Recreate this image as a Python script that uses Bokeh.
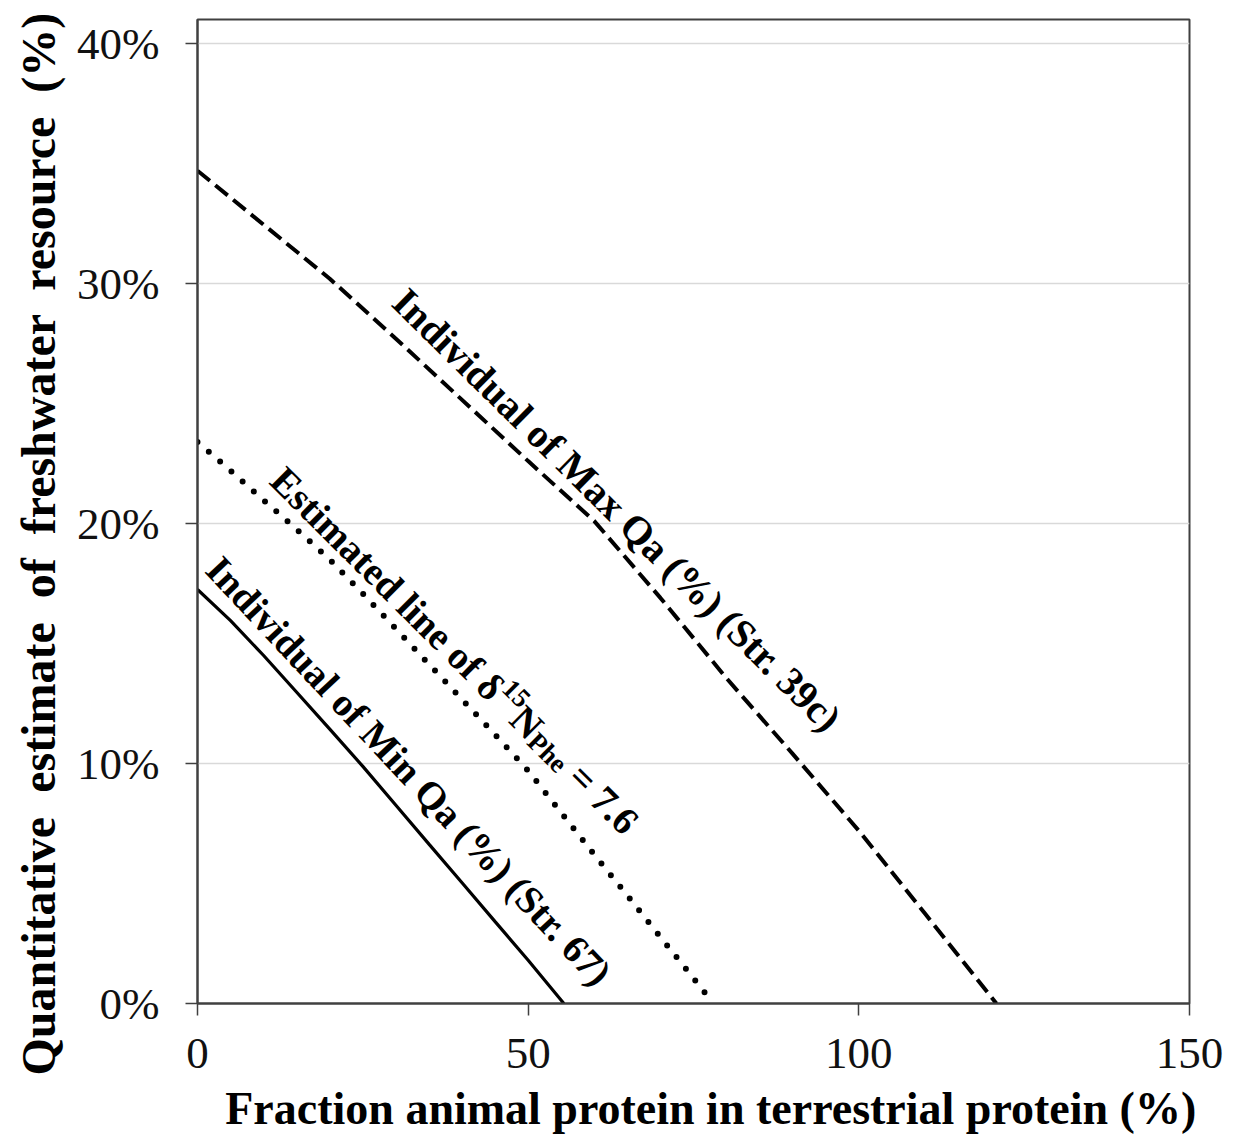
import math
from bokeh.plotting import figure
from bokeh.models import Range1d, FixedTicker, Label, Title
from bokeh.embed import file_html
from bokeh.resources import INLINE

# ---------------- data ----------------
min_x = [0, 5, 10, 15, 20, 25, 30, 35, 40, 45, 50, 55.4]
min_y = [17.25, 15.95, 14.5, 12.97, 11.43, 9.88, 8.26, 6.64, 5.03, 3.41, 1.8, 0.0]

est_x = [0, 5, 10, 14, 20, 25, 30, 35, 40, 45, 50, 55, 60, 65, 70, 75, 78]
est_y = [23.4, 22.2, 20.97, 20.0, 18.5, 17.08, 15.61, 14.14, 12.67, 11.2,
         9.7, 7.95, 6.2, 4.5, 2.77, 1.05, 0.0]

max_x = [0, 10, 20, 30, 40, 50, 60, 70, 80, 90, 100, 110, 120.8]
max_y = [34.7, 32.45, 30.2, 27.7, 25.15, 22.6, 20.1, 16.9, 13.55, 10.4, 7.2, 3.75, 0.0]

x_ticks = [0, 50, 100, 150]
y_ticks = [0, 10, 20, 30, 40]
y_tick_labels = ["0%", "10%", "20%", "30%", "40%"]

NB = "\u00a0"
x_title = NB * 3 + "Fraction animal protein in terrestrial protein (%)"
y_title = (" " + NB).join(["Quantitative", "estimate", "of", "freshwater",
                           "resource", "(%)"])
max_label = "Individual of Max Qa (%) (Str. 39c)"
min_label = "Individual of Min Qa (%) (Str. 67)"

# ---------------- figure ----------------
X0, X1, Y0, Y1 = 0, 150, 0, 41
W, H = 1230, 1142
BL, BR, BT, BB = 197, 41, 19, 139
PX_X = (W - BL - BR) / (X1 - X0)
PX_Y = (H - BT - BB) / (Y1 - Y0)

p = figure(width=W, height=H, output_backend="svg", toolbar_location=None,
           x_range=Range1d(X0, X1), y_range=Range1d(Y0, Y1),
           min_border_left=BL, min_border_right=BR,
           min_border_top=BT, min_border_bottom=BB)
p.background_fill_color = "white"
p.border_fill_color = "white"
p.outline_line_color = "#404040"
p.outline_line_width = 2

FONT = "Liberation Serif"
AX_COL = "#404040"

for ax in (p.xaxis[0], p.yaxis[0]):
    ax.axis_line_color = AX_COL
    ax.axis_line_width = 2
    ax.major_tick_line_color = AX_COL
    ax.major_tick_line_width = 1.5
    ax.major_tick_out = 12
    ax.major_tick_in = 0
    ax.minor_tick_line_color = None
    ax.major_label_text_font = FONT
    ax.major_label_text_font_size = "45px"
    ax.major_label_text_color = "#111111"
    ax.axis_label_text_font = FONT
    ax.axis_label_text_font_style = "bold"
    ax.axis_label_text_color = "black"

p.xaxis.ticker = FixedTicker(ticks=x_ticks)
p.yaxis.ticker = FixedTicker(ticks=y_ticks)
p.yaxis.major_label_overrides = {t: l for t, l in zip(y_ticks, y_tick_labels)}
p.xaxis.major_label_standoff = 23
p.yaxis.major_label_standoff = 26

p.xaxis.axis_label = x_title
p.xaxis.axis_label_text_font_size = "46px"
p.xaxis.axis_label_standoff = 12

# y-axis title: a side title starting a little below the frame bottom, like the original
p.add_layout(Title(text=y_title, align="left", offset=-72, standoff=19,
                   text_font=FONT, text_font_style="bold", text_font_size="48px",
                   text_color="black"), "left")

p.xgrid.grid_line_color = None
p.ygrid.grid_line_color = "#d9d9d9"
p.ygrid.grid_line_width = 1.5

# ---------------- lines ----------------
p.line(min_x, min_y, line_color="black", line_width=3.2)
p.line(est_x, est_y, line_color="black", line_width=6,
       line_dash="0 15", line_cap="round")
p.line(max_x, max_y, line_color="black", line_width=4, line_dash="16 7")

# ---------------- labels ----------------
def to_data(px, py):
    return X0 + (px - BL) / PX_X, Y1 - (py - BT) / PX_Y


def place(x0, y0, ang, s, n=0.0):
    a = math.radians(ang)
    return (x0 + (s * math.cos(a) - n * math.sin(a)) / PX_X,
            y0 + (s * math.sin(a) + n * math.cos(a)) / PX_Y)


def add_label(x, y, text, ang, size, style="bold", align="left"):
    p.add_layout(Label(x=x, y=y, text=text, angle=math.radians(ang), angle_units="rad",
                       text_font=FONT, text_font_style=style, text_font_size=f"{size}px",
                       text_color="black", text_align=align, text_baseline="alphabetic"))

# Max label
mx, my = to_data(399, 295)
add_label(mx, my, max_label, -44.6, 40)

# Min label
nx, ny = to_data(213, 562)
add_label(nx, ny, min_label, -46.8, 39)

# Estimated line label, composed of pieces
ex, ey = to_data(277, 473)
ANG = -44.9
pieces = [
    ("Estimated line of δ", 39, "bold", 0.0, 311.0),
    ("15", 27, "bold", 13.0, 27.0),
    ("N", 39, "bold", 0.0, 28.5),
    ("Phe", 27, "bold", -7.0, 44.0),
    (NB + "= 7.6", 39, "bold", 0.0, 90.5),
]
s = 0.0
for txt, size, style, n, w in pieces:
    px_, py_ = place(ex, ey, ANG, s, n)
    add_label(px_, py_, txt, ANG, size, style)
    s += w

open("out.html", "w").write(file_html(p, INLINE))
